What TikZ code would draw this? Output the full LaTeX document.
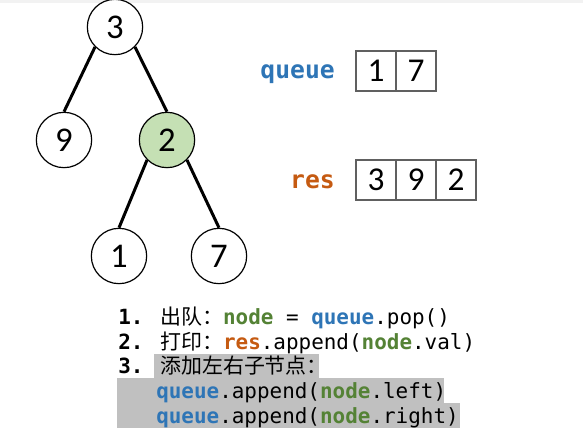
\documentclass[tikz,border=0pt]{standalone}
\usepackage{fontspec}
\newfontfamily\numfont{Carlito}
\newfontfamily\codefont{DejaVu Sans Mono}
\newfontfamily\cjk{Noto Sans CJK SC}
\definecolor{cblue}{RGB}{46,117,182}
\definecolor{cgreen}{RGB}{84,130,53}
\definecolor{corange}{RGB}{197,90,17}
\definecolor{cfill}{RGB}{197,224,180}
\definecolor{hl}{RGB}{192,192,192}
\definecolor{boxline}{RGB}{96,96,96}
\begin{document}
\begin{tikzpicture}[x=0.75pt,y=-0.75pt,
  treenode/.style={circle,draw=black,line width=0.9pt,fill=white,minimum size=41.5pt,inner sep=0pt,font=\numfont\fontsize{26}{28}\selectfont},
  cell/.style={rectangle,draw=boxline,line width=1.1pt,minimum size=30pt,inner sep=0pt,font=\numfont\fontsize{25}{28}\selectfont},
  edge/.style={line width=2.25pt,black},
  code/.style={anchor=base west,inner sep=0pt,font=\codefont\fontsize{15.7}{18}\selectfont},
  varlabel/.style={anchor=base east,inner sep=0pt,font=\codefont\bfseries\fontsize{18.5}{22}\selectfont}]
\useasboundingbox (0,0) rectangle (583,440);
\fill[black!5] (0,0) rectangle (583,3);
% tree
\node[treenode] (n3) at (115,27) {3};
\node[treenode] (n9) at (64,140) {9};
\node[treenode,fill=cfill] (n2) at (167,140) {2};
\node[treenode] (n1) at (119,256) {1};
\node[treenode] (n7) at (219,256) {7};
\draw[edge] (n3.south west) -- (n9.north);
\draw[edge] (n3.south east) -- (n2.north);
\draw[edge] (n2.south west) -- (n1.north);
\draw[edge] (n2.south east) -- (n7.north);
% queue
\node[varlabel,text=cblue] (ql) at (335,78) {queue};
\node[cell] (q1) at (376,71) {1};
\node[cell] (q2) at (416,71) {7};
% res
\node[varlabel,text=corange] (rl) at (335,188) {res};
\node[cell] (r1) at (376,180) {3};
\node[cell] (r2) at (416,180) {9};
\node[cell] (r3) at (456,180) {2};
% highlights
\fill[hl] (154,354) rectangle (319,378);
\fill[hl] (117,378) rectangle (444,403);
\fill[hl] (117,403) rectangle (460,428);
% code
\node[code] (c1) at (118,324) {\textbf{1.} {\cjk 出队：}\textcolor{cgreen}{\textbf{node}} = \textcolor{cblue}{\textbf{queue}}.pop()};
\node[code] (c2) at (118,349) {\textbf{2.} {\cjk 打印：}\textcolor{corange}{\textbf{res}}.append(\textcolor{cgreen}{\textbf{node}}.val)};
\node[code] (c3) at (118,373) {\textbf{3.} {\cjk 添加左右子节点：}};
\node[code] (c4) at (156,398) {\textcolor{cblue}{\textbf{queue}}.append(\textcolor{cgreen}{\textbf{node}}.left)};
\node[code] (c5) at (156,423) {\textcolor{cblue}{\textbf{queue}}.append(\textcolor{cgreen}{\textbf{node}}.right)};
\end{tikzpicture}
\end{document}
